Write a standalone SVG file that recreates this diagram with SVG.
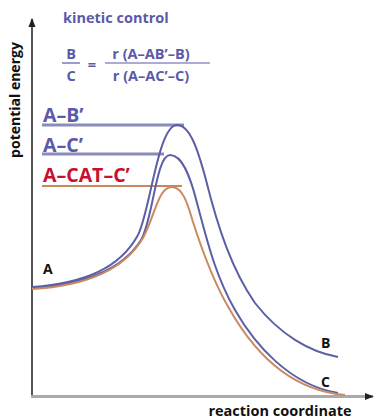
<svg xmlns="http://www.w3.org/2000/svg" width="378" height="420" viewBox="0 0 378 420">
<style>
.t{font-family:"Open Sans","Liberation Sans",sans-serif;font-weight:bold}
.blue{fill:#5a5aa8}
.red{fill:#c8102e}
.blk{fill:#111}
.cb{fill:none;stroke:#5c5fa6;stroke-width:2}
.co{fill:none;stroke:#c98a62;stroke-width:2}
.lvb{stroke:#8a8cbc;stroke-width:3}
.lvo{stroke:#c9875e;stroke-width:2}
</style>
<defs>
<marker id="ah2" viewBox="0 0 10 10" refX="9" refY="5" markerWidth="9" markerHeight="9" orient="auto" markerUnits="userSpaceOnUse">
<path d="M0,1 L10,5 L0,9 z" fill="#222"/>
</marker>
</defs>
<g id="axes">
<line x1="32" y1="396" x2="32" y2="19" stroke="#555" stroke-width="2" marker-end="url(#ah2)"/>
<line x1="31" y1="396.5" x2="373" y2="396.5" stroke="#aaa" stroke-width="3" marker-end="url(#ah2)"/>
<text class="t blk" font-size="14" transform="translate(20,100) rotate(-90)" text-anchor="middle">potential energy</text>
<text class="t blk" font-size="14.5" x="280" y="416" text-anchor="middle">reaction coordinate</text>
</g>
<g id="title">
<text class="t blue" font-size="14.5" x="63" y="23">kinetic control</text>
<text class="t blue" font-size="14.5" x="71" y="59" text-anchor="middle">B</text>
<line x1="62" y1="63" x2="80" y2="63" stroke="#5a5aa8" stroke-width="1.2"/>
<text class="t blue" font-size="14.5" x="71" y="81" text-anchor="middle">C</text>
<text class="t blue" font-size="14.5" x="92" y="70" text-anchor="middle">=</text>
<text class="t blue" font-size="14.5" x="151" y="59" text-anchor="middle">r (A–AB’–B)</text>
<line x1="105" y1="63" x2="210" y2="63" stroke="#5a5aa8" stroke-width="1.2"/>
<text class="t blue" font-size="14.5" x="151" y="81" text-anchor="middle">r (A–AC’–C)</text>
</g>
<g id="connectors">
<line class="lvb" x1="42" y1="125" x2="184" y2="125"/>
<line class="lvb" x1="42" y1="154" x2="164" y2="154"/>
<line class="lvo" x1="42" y1="186" x2="182" y2="186"/>
<path class="cb" d="M32,287 C85,283 120,268 138,235 C150,212 158,125 177,125 C190,125 198,150 206,180 C218,228 232,270 255,303 C280,335 310,352 338,357"/>
<path class="cb" d="M32,288 C85,284 122,270 141,240 C153,220 156,155 170,155 C182,155 190,175 197,203 C207,240 215,275 235,310 C255,345 290,385 338,393"/>
<path class="co" d="M32,289 C85,286 124,270 143,238 C155,216 158,187 172,187 C183,187 188,205 193,222 C202,250 215,285 230,310 C250,345 285,390 345,395"/>
</g>
<g id="node-AB"><text class="t blue" font-size="19.5" x="43" y="122">A–B’</text></g>
<g id="node-AC"><text class="t blue" font-size="19.5" x="43" y="152">A–C’</text></g>
<g id="node-ACAT"><text class="t red" font-size="19.5" x="43" y="182">A–CAT–C’</text></g>
<g id="node-A"><text class="t blk" font-size="14" x="43" y="274">A</text></g>
<g id="node-B"><text class="t blk" font-size="14" x="321" y="348">B</text></g>
<g id="node-C"><text class="t blk" font-size="14" x="321" y="387">C</text></g>
</svg>
